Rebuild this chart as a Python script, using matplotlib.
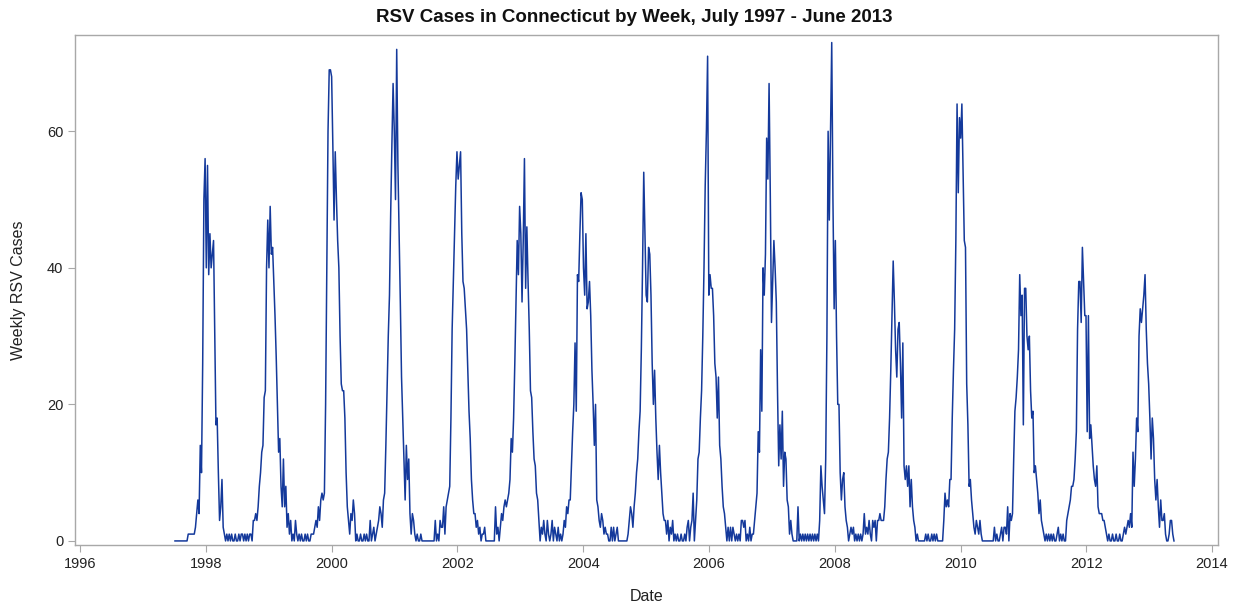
import numpy as np
import pandas as pd
import matplotlib
matplotlib.use("Agg")
import matplotlib.pyplot as plt
import matplotlib.dates as mdates

plt.rcParams['font.family'] = ['Liberation Sans', 'DejaVu Sans']

# weekly RSV counts, one list per season (July - June)
s1997 = [0, 0, 0, 0, 0, 0, 0, 0, 0, 0, 0, 1, 1, 1, 1, 1, 1, 2, 4, 6, 4, 14, 10, 26, 50, 56,
         40, 55, 39, 45, 40, 42, 44, 30, 17, 18, 10, 3, 5, 9, 2, 1, 0, 1, 0, 1, 0, 1, 0, 0, 1, 0]
s1998 = [0, 1, 0, 1, 1, 0, 1, 0, 1, 0, 1, 1, 0, 3, 3, 4, 3, 5, 8, 10, 13, 14, 21, 22, 40, 47,
         40, 49, 42, 43, 38, 33, 27, 20, 13, 15, 8, 5, 12, 5, 8, 2, 4, 1, 3, 0, 1, 0, 3, 1, 0, 1]
s1999 = [0, 1, 0, 0, 1, 0, 1, 0, 0, 1, 1, 1, 2, 3, 2, 5, 3, 6, 7, 6, 7, 20, 40, 60, 69, 69,
         68, 58, 47, 57, 50, 44, 40, 30, 23, 22, 22, 18, 10, 5, 3, 1, 4, 3, 6, 4, 0, 1, 0, 0, 1, 0]
s2000 = [0, 1, 0, 1, 0, 0, 3, 0, 1, 2, 0, 1, 2, 3, 5, 4, 2, 6, 7, 14, 22, 30, 36, 48, 58, 67,
         60, 50, 72, 55, 45, 35, 24, 18, 12, 6, 14, 9, 12, 4, 1, 4, 3, 1, 0, 1, 0, 0, 1, 0, 0, 0]
s2001 = [0, 0, 0, 0, 0, 0, 0, 0, 3, 0, 1, 0, 3, 2, 2, 5, 1, 5, 6, 7, 8, 18, 31, 38, 45, 52,
         57, 53, 55, 57, 45, 38, 37, 34, 31, 25, 19, 15, 9, 6, 4, 4, 2, 3, 1, 2, 0, 1, 1, 2, 0, 0]
s2002 = [0, 0, 0, 0, 0, 0, 5, 1, 2, 0, 2, 4, 3, 5, 6, 5, 6, 7, 9, 15, 13, 18, 26, 35, 44, 39,
         49, 45, 35, 44, 56, 37, 46, 38, 31, 22, 21, 16, 12, 11, 7, 6, 3, 0, 2, 1, 3, 1, 0, 3, 1, 0]
s2003 = [1, 3, 0, 2, 1, 0, 2, 0, 1, 0, 1, 3, 2, 5, 4, 6, 6, 11, 16, 20, 29, 19, 39, 38, 45, 51,
         50, 40, 36, 45, 34, 35, 38, 33, 25, 20, 14, 20, 6, 5, 3, 2, 4, 3, 1, 2, 1, 1, 0, 0, 2, 0]
s2004 = [2, 0, 1, 2, 0, 0, 0, 0, 0, 0, 0, 0, 1, 3, 5, 4, 2, 5, 7, 10, 12, 16, 19, 28, 40, 54,
         45, 36, 35, 43, 42, 36, 26, 20, 25, 18, 13, 9, 14, 10, 7, 4, 3, 3, 1, 3, 0, 2, 1, 3, 0, 1]
s2005 = [0, 1, 0, 0, 1, 0, 0, 1, 0, 2, 3, 0, 2, 3, 7, 0, 3, 6, 12, 13, 18, 22, 30, 40, 52, 60,
         71, 36, 39, 37, 37, 33, 26, 24, 18, 24, 14, 12, 8, 5, 4, 2, 0, 2, 0, 2, 0, 2, 1, 0, 1, 0]
s2006 = [1, 0, 3, 3, 2, 3, 0, 1, 0, 2, 0, 1, 1, 3, 5, 7, 16, 13, 28, 19, 40, 36, 42, 59, 53, 67,
         51, 32, 38, 44, 40, 35, 22, 11, 17, 12, 19, 8, 13, 12, 6, 5, 1, 3, 1, 0, 0, 0, 0, 5, 0, 1]
s2007 = [0, 1, 0, 1, 0, 1, 0, 1, 0, 1, 0, 1, 0, 1, 0, 3, 11, 8, 6, 4, 12, 30, 60, 47, 60, 73,
         50, 34, 44, 30, 20, 20, 10, 6, 9, 10, 5, 3, 2, 0, 1, 2, 1, 2, 0, 1, 0, 1, 0, 1, 0, 1]
s2008 = [4, 1, 2, 1, 3, 1, 0, 3, 2, 3, 0, 3, 3, 4, 3, 3, 3, 5, 9, 12, 13, 18, 25, 33, 41, 35,
         28, 24, 31, 32, 26, 18, 29, 11, 9, 11, 8, 11, 5, 9, 5, 3, 2, 0, 1, 0, 0, 0, 0, 0, 0, 1]
s2009 = [0, 1, 0, 0, 1, 0, 1, 0, 1, 0, 0, 0, 0, 0, 3, 7, 5, 6, 5, 9, 9, 18, 25, 31, 44, 64,
         51, 62, 59, 64, 54, 44, 43, 23, 17, 8, 9, 6, 4, 2, 1, 3, 2, 1, 3, 1, 0, 0, 0, 0, 0, 0]
s2010 = [0, 0, 0, 0, 2, 0, 1, 0, 0, 1, 2, 0, 2, 2, 1, 5, 0, 4, 3, 4, 12, 19, 21, 24, 28, 39,
         33, 36, 17, 37, 37, 30, 28, 30, 22, 18, 19, 10, 11, 9, 7, 4, 6, 3, 2, 1, 0, 1, 0, 1, 0, 1]
s2011 = [0, 1, 0, 0, 1, 2, 0, 1, 0, 1, 0, 0, 3, 4, 5, 6, 8, 8, 9, 12, 16, 31, 38, 38, 32, 43,
         38, 33, 33, 16, 33, 15, 17, 14, 11, 9, 8, 11, 5, 4, 4, 4, 3, 3, 2, 1, 0, 1, 0, 0, 1, 0]
s2012 = [0, 1, 0, 0, 1, 0, 0, 1, 2, 1, 2, 3, 2, 4, 2, 13, 8, 12, 18, 16, 30, 34, 32, 34, 36, 39,
         31, 26, 23, 18, 12, 18, 15, 9, 6, 9, 5, 2, 6, 3, 3, 4, 1, 0, 0, 1, 3, 3, 1, 0]

seasons = [s1997, s1998, s1999, s2000, s2001, s2002, s2003, s2004,
           s2005, s2006, s2007, s2008, s2009, s2010, s2011, s2012]
cases = np.concatenate(seasons)
weeks = pd.date_range(start='1997-07-05', periods=len(cases), freq='7D')

fig = plt.figure(figsize=(12.41, 6.07), dpi=100)
ax = fig.add_axes([0.0604, 0.1021, 0.9211, 0.8402])

ax.plot(weeks, cases, color='#14399b', linewidth=1.1)

ax.set_xlim(pd.Timestamp('1995-12-02'), pd.Timestamp('2014-02-05'))
ax.set_ylim(-0.6, 74.1)
ax.xaxis.set_major_locator(mdates.YearLocator(2))
ax.xaxis.set_major_formatter(mdates.DateFormatter('%Y'))
ax.set_yticks([0, 20, 40, 60])

for sp in ax.spines.values():
    sp.set_color('#a8a8a8')
    sp.set_linewidth(1)
ax.tick_params(colors='#a8a8a8', labelcolor='#222222', labelsize=10.5, length=5)

ax.set_xlabel('Date', fontsize=11.5, color='#222222', labelpad=13)
ax.set_ylabel('Weekly RSV Cases', fontsize=11.5, color='#222222', labelpad=15)
fig.text(0.511, 1 - 17 / 607, 'RSV Cases in Connecticut by Week, July 1997 - June 2013',
         fontsize=13.5, fontweight='bold', color='#111111', ha='center', va='center')

fig.savefig('out.png', dpi=100)
